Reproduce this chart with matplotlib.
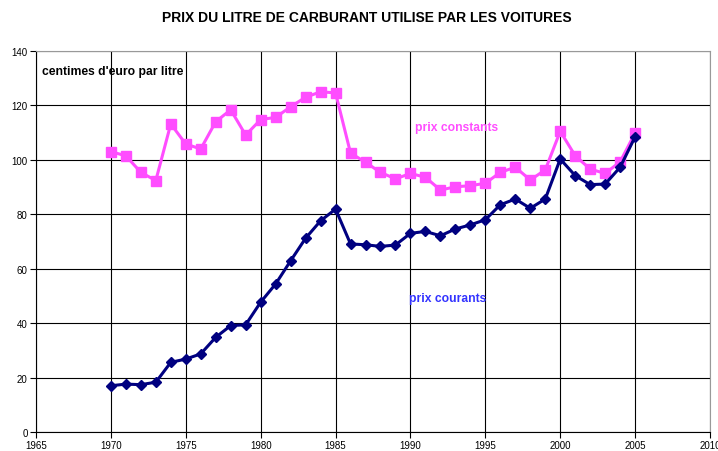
import numpy as np
import matplotlib
matplotlib.use("Agg")
import matplotlib.pyplot as plt

plt.rcParams['font.family'] = ['Liberation Sans', 'DejaVu Sans']

years = list(range(1970, 2006))

# prix constants (centimes d'euro par litre)
constants = [103.0, 101.5, 95.4, 92.4, 113.2, 105.8, 104.0, 114.0, 118.4, 109.1,
             114.8, 115.6, 119.5, 123.0, 125.0, 124.6, 102.5, 99.1, 95.4, 93.0,
             95.0, 93.6, 88.9, 90.1, 90.5, 91.4, 95.4, 97.3, 92.6, 96.3,
             110.5, 101.5, 96.6, 95.0, 99.3, 109.9]

# prix courants
courants = [17.0, 17.6, 17.4, 18.3, 25.6, 26.8, 28.7, 34.8, 39.1, 39.4,
            47.7, 54.4, 62.9, 71.2, 77.6, 81.9, 69.1, 68.8, 68.2, 68.7,
            73.0, 73.7, 72.1, 74.6, 76.1, 78.0, 83.5, 85.6, 82.2, 85.6,
            100.3, 94.2, 90.9, 91.1, 97.3, 108.5]

xticks = np.arange(1965, 2011, 5)
yticks = np.arange(0, 141, 20)

fig = plt.figure(figsize=(7.18, 4.52), dpi=100)
ax = fig.add_axes([0.0501, 0.042, 0.9388, 0.843])

pink = '#FF4DFF'
navy = '#000080'

ax.plot(years, constants, color=pink, lw=2.2, marker='s', ms=6.5,
        mec=pink, mfc=pink, zorder=3)
ax.plot(years, courants, color=navy, lw=2.2, marker='D', ms=5,
        mec=navy, mfc=navy, zorder=4)

ax.set_xlim(1965, 2010)
ax.set_ylim(0, 140)
ax.set_xticks(xticks)
ax.set_yticks(yticks)
ax.grid(True, color='black', lw=0.8)
ax.set_axisbelow(True)
ax.tick_params(labelsize=7, direction='out', length=4, width=0.8, pad=2)

for s in ['left', 'bottom']:
    ax.spines[s].set_color('black')
    ax.spines[s].set_linewidth(0.8)
for s in ['right', 'top']:
    ax.spines[s].set_color('#999999')
    ax.spines[s].set_linewidth(0.8)

fig.text(0.511, 0.96, 'PRIX DU LITRE DE CARBURANT UTILISE PAR LES VOITURES',
         ha='center', va='center', fontsize=10, fontweight='bold')

ax.text(1965.4, 132.5, "centimes d'euro par litre", fontsize=8.7,
        fontweight='bold', ha='left', va='center')
ax.text(1990.3, 112, 'prix constants', fontsize=8.7, fontweight='bold',
        color=pink, ha='left', va='center')
ax.text(1989.9, 49.3, 'prix courants', fontsize=8.7, fontweight='bold',
        color='#3333FF', ha='left', va='center')

fig.savefig('out.png', dpi=100)
